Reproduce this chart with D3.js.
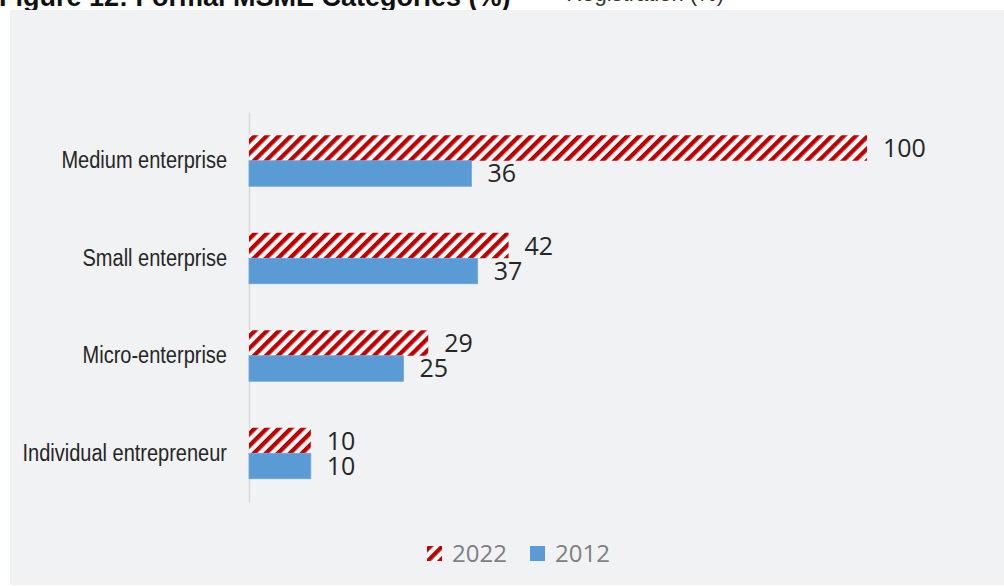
<!DOCTYPE html>
<html>
<head>
<meta charset="utf-8">
<script src="https://cdn.jsdelivr.net/npm/d3@7"></script>
<style>
  body { margin: 0; background: #fff; }
  svg { display: block; }
</style>
</head>
<body>
<div id="chart"></div>
<script>
// chart data
var categories = ["Medium enterprise", "Small enterprise", "Micro-enterprise", "Individual entrepreneur"];
var seriesNames = ["2022", "2012"];
var values2022 = [100, 42, 29, 10];
var values2012 = [36, 37, 25, 10];
var titleText = "Figure 12: Formal MSME Categories (%)";
var titleText2 = "Registration (%)";

var width = 1004, height = 586;
var svg = d3.select("#chart").append("svg")
    .attr("width", width)
    .attr("height", height);

// hatch pattern for 2022
var defs = svg.append("defs");
var pat = defs.append("pattern")
    .attr("id", "hatch")
    .attr("patternUnits", "userSpaceOnUse")
    .attr("width", 8.5)
    .attr("height", 8.5)
    .attr("patternTransform", "rotate(45)");
pat.append("rect").attr("width", 8.5).attr("height", 8.5).attr("fill", "#ffffff");
pat.append("rect").attr("width", 4.3).attr("height", 8.5).attr("fill", "#c00000");

// titles (cut off at the top of the picture)
svg.append("text")
    .attr("x", -1).attr("y", 6)
    .style("font-family", "'Liberation Sans', Arial, sans-serif")
    .style("font-weight", "bold")
    .style("font-size", "27px")
    .attr("fill", "#111")
    .text(titleText);
svg.append("text")
    .attr("x", 724).attr("y", 1)
    .attr("text-anchor", "end")
    .style("font-family", "'Liberation Sans', Arial, sans-serif")
    .style("font-size", "22px")
    .attr("fill", "#333")
    .text(titleText2);

// background panel
svg.append("rect")
    .attr("x", 10).attr("y", 10)
    .attr("width", 994).attr("height", 575)
    .attr("fill", "#f1f2f4");

// scales
var x = d3.scaleLinear().domain([0, 100]).range([249, 867]);
var y0 = d3.scaleBand().domain(categories).range([112, 502])
    .paddingInner(0.477).paddingOuter(0.2385);
var y1 = d3.scaleBand().domain(seriesNames).range([0, y0.bandwidth()]);

var fills = { "2022": "url(#hatch)", "2012": "#5b9bd5" };

var rows = categories.map(function (c, i) {
    return { cat: c, vals: [{ s: "2022", v: values2022[i] }, { s: "2012", v: values2012[i] }] };
});

// y axis
var yAxis = svg.append("g")
    .attr("class", "axis axis-y")
    .attr("transform", "translate(" + x(0) + ",0)")
    .call(d3.axisLeft(y0).tickSize(0).tickPadding(22));
yAxis.select(".domain").attr("stroke", "#d9d9d9").attr("stroke-width", 1.5);
yAxis.selectAll("text")
    .style("font-family", "'Liberation Sans', Arial, sans-serif")
    .style("font-size", "20px")
    .attr("transform", "scale(1,1.15)")
    .attr("fill", "#262626");

// bars
var groups = svg.selectAll(".grp")
    .data(rows)
    .enter().append("g")
    .attr("class", "grp")
    .attr("transform", function (d) { return "translate(0," + y0(d.cat) + ")"; });

groups.selectAll("rect")
    .data(function (d) { return d.vals; })
    .enter().append("rect")
    .attr("x", x(0))
    .attr("y", function (d) { return y1(d.s); })
    .attr("width", function (d) { return x(d.v) - x(0); })
    .attr("height", y1.bandwidth())
    .attr("fill", function (d) { return fills[d.s]; })
    .attr("stroke", function (d) { return d.s === "2012" ? "#6ea6da" : "none"; })
    .attr("stroke-width", 0.8);

groups.selectAll(".lbl")
    .data(function (d) { return d.vals; })
    .enter().append("text")
    .attr("class", "lbl")
    .attr("x", function (d) { return x(d.v) + 16; })
    .attr("y", function (d) { return y1(d.s) + y1.bandwidth() / 2; })
    .attr("dy", "0.36em")
    .style("font-family", "'Open Sans', 'Noto Sans', sans-serif")
    .style("font-size", "25px")
    .attr("fill", "#262626")
    .text(function (d) { return d.v; });

// legend
var legend = svg.append("g").attr("class", "legend");
var legendX = [427, 530];
seriesNames.forEach(function (s, i) {
    legend.append("rect")
        .attr("x", legendX[i]).attr("y", 546)
        .attr("width", 15).attr("height", 15)
        .attr("fill", fills[s]);
    legend.append("text")
        .attr("x", legendX[i] + 25).attr("y", 553)
        .attr("dy", "0.36em")
        .style("font-family", "'Open Sans', 'Noto Sans', sans-serif")
        .style("font-size", "24px")
        .attr("fill", "#7f7f7f")
        .text(s);
});
</script>
</body>
</html>
